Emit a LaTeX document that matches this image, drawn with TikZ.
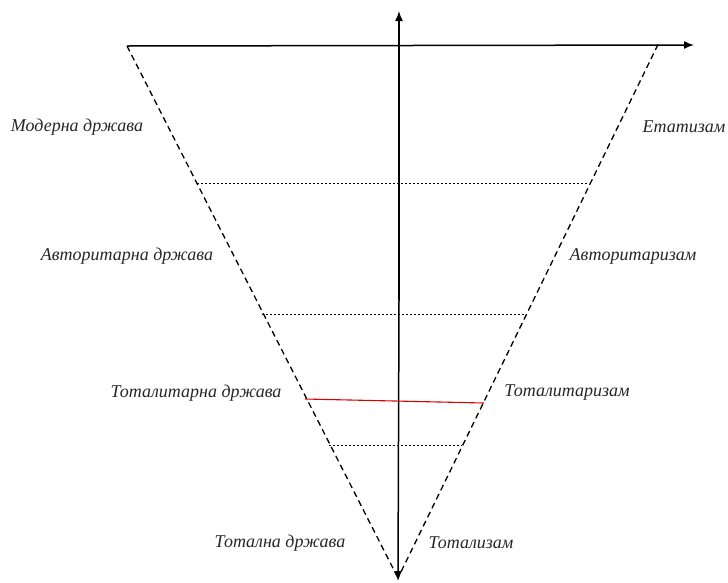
\documentclass[tikz,border=0pt]{standalone}
\usepackage{fontspec}
\setmainfont{Liberation Serif}
\usetikzlibrary{arrows.meta}
\begin{document}
\begin{tikzpicture}[x=1pt,y=-1pt,
  axis/.style={line width=1.5pt,-{Latex[length=10pt,width=8pt]}},
  side/.style={line width=1.3pt,dash pattern=on 6pt off 4pt},
  level/.style={line width=0.7pt,dash pattern=on 2pt off 2pt},
  redline/.style={line width=1.1pt,red!85!black},
  lbl/.style={font=\fontsize{18}{20}\selectfont\itshape,inner sep=0pt,text=black!85}]
\useasboundingbox (0,0) rectangle (728,582);
% key points
\coordinate (tl) at (127,46);
\coordinate (tr) at (658,44.5);
\coordinate (bot) at (398,578);
\coordinate (hend) at (694,45);
\coordinate (vtop) at (399,11);
\coordinate (vbot) at (398,581);
\coordinate (vmid) at (399,300);
% axes
\draw[axis] (tl) -- (hend);
\draw[axis] (vmid) -- (vtop);
\draw[axis] (vmid) -- (vbot);
% sides
\draw[side] (tl) -- (bot);
\draw[side] (tr) -- (bot);
% levels
\coordinate (l1a) at (197,183); \coordinate (l1b) at (589,183);
\coordinate (l2a) at (262,314); \coordinate (l2b) at (527,314);
\coordinate (l3a) at (329,445); \coordinate (l3b) at (462,445);
\draw[level] (l1a) -- (l1b);
\draw[level] (l2a) -- (l2b);
\draw[level] (l3a) -- (l3b);
\coordinate (ra) at (305,399); \coordinate (rb) at (484,403);
\draw[redline] (ra) -- (rb);
% labels
\node[lbl] (t1) at (77,127) {Модерна држава};
\node[lbl] (t2) at (684,127) {Етатизам};
\node[lbl] (t3) at (127,256) {Авторитарна држава};
\node[lbl] (t4) at (633,256) {Авторитаризам};
\node[lbl] (t5) at (196,393) {Тоталитарна држава};
\node[lbl] (t6) at (567,393) {Тоталитаризам};
\node[lbl] (t7) at (280,543) {Тотална држава};
\node[lbl] (t8) at (471,543) {Тотализам};
\end{tikzpicture}
\end{document}
